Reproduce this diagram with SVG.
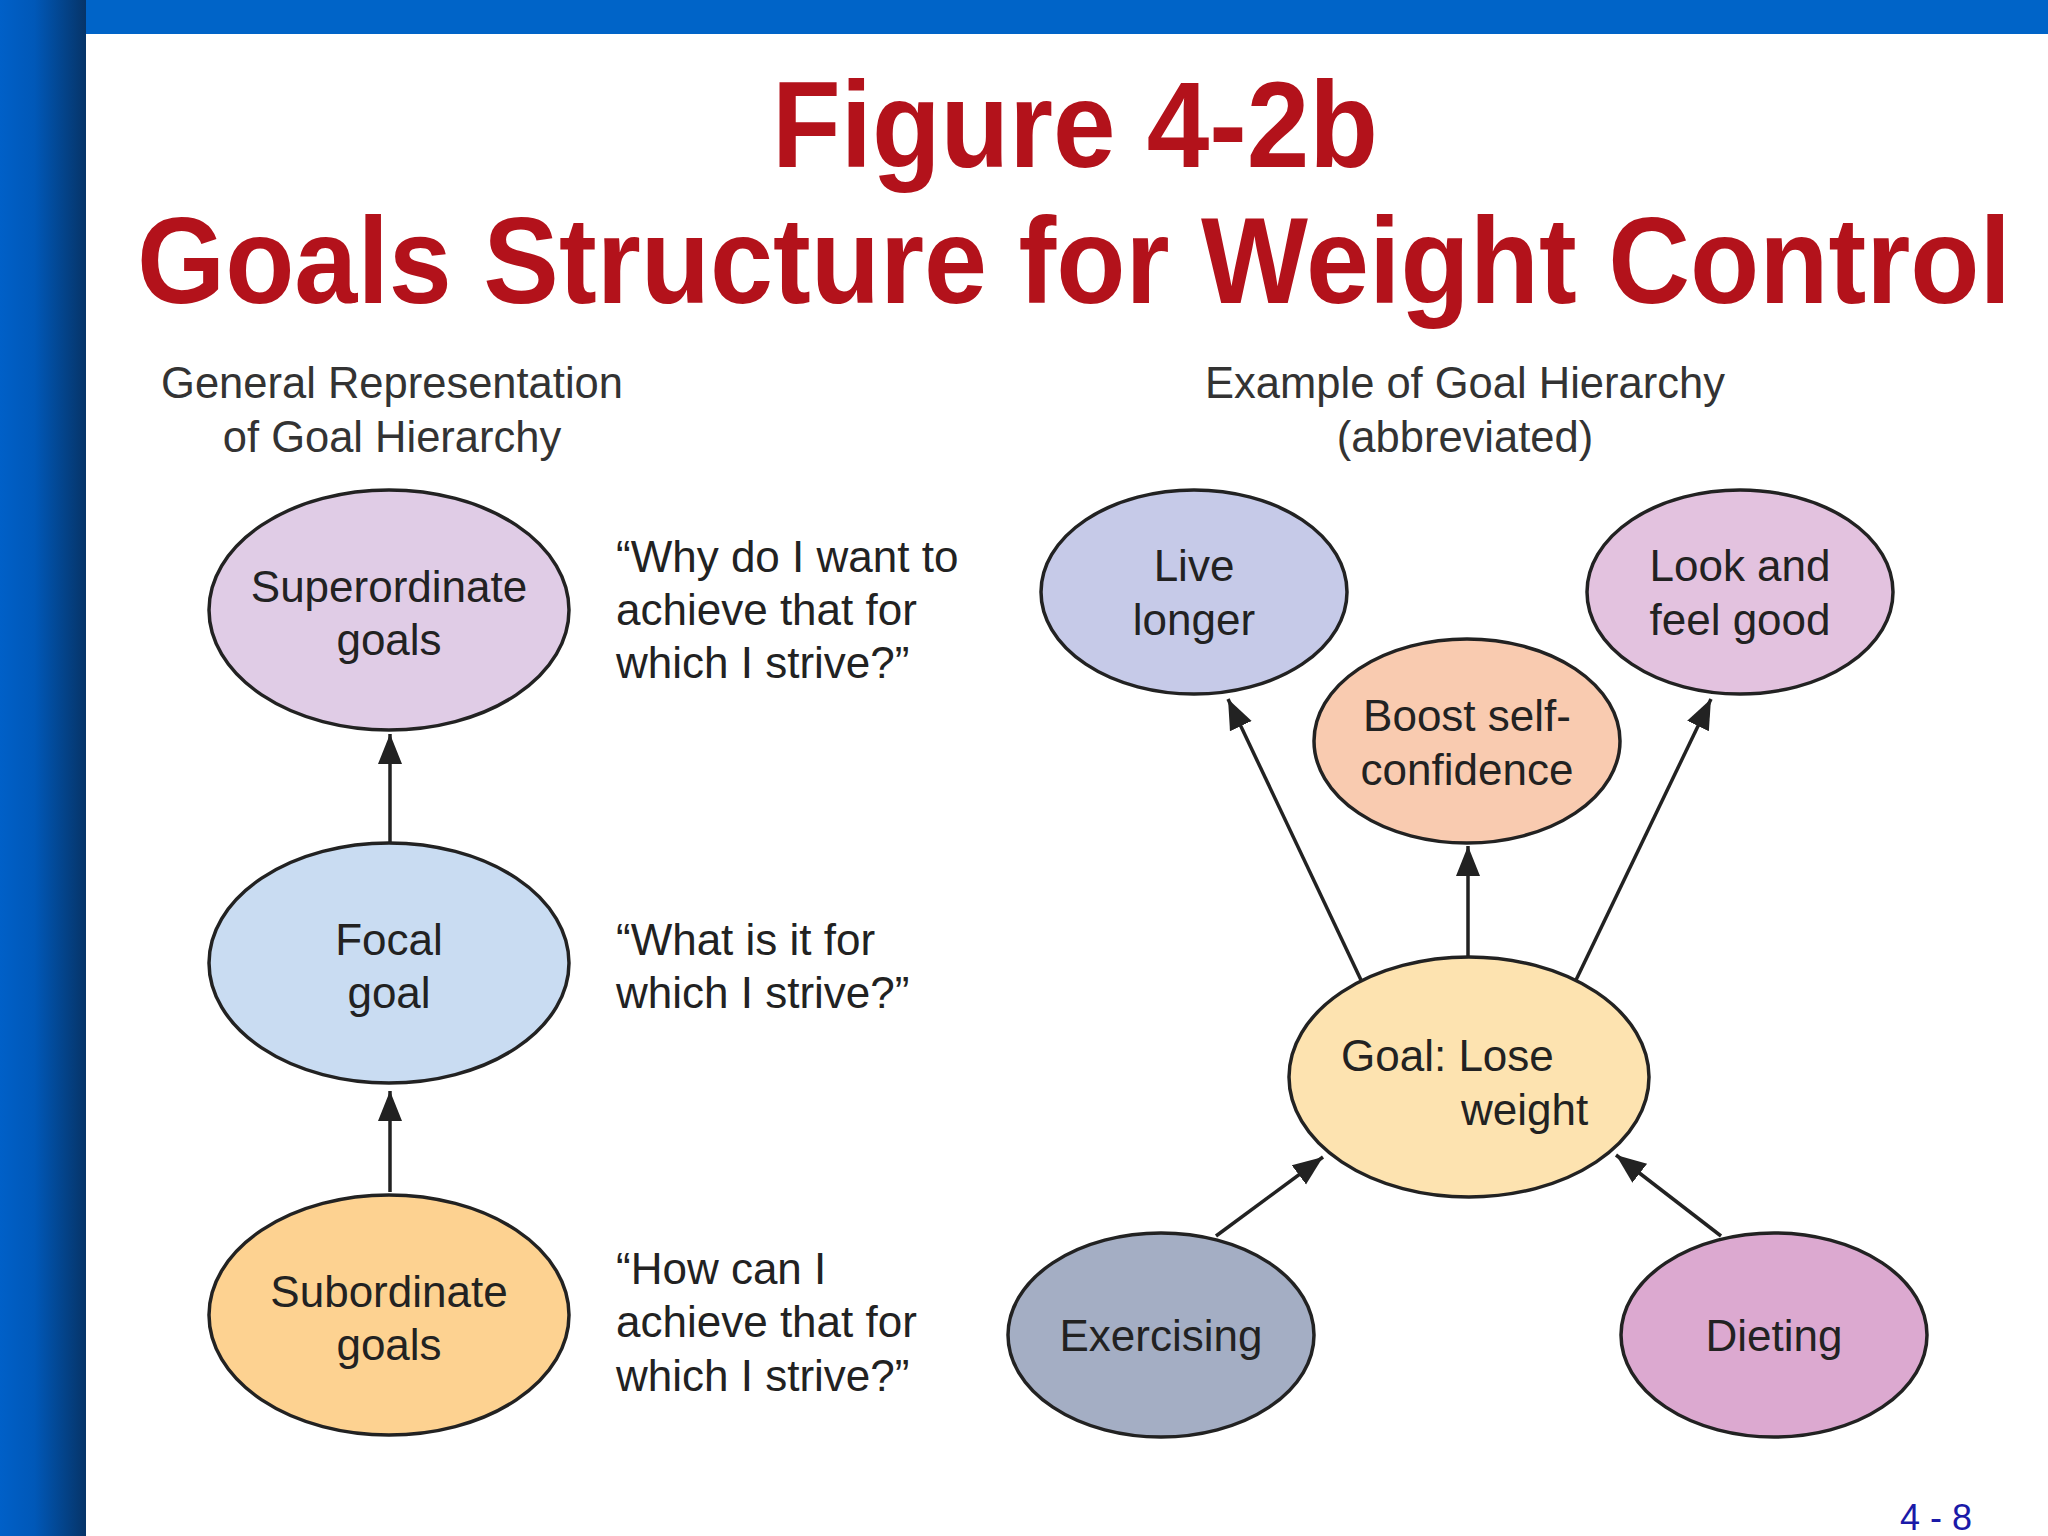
<svg xmlns="http://www.w3.org/2000/svg" width="2048" height="1536" viewBox="0 0 2048 1536">
<defs>
<linearGradient id="lb" x1="0" x2="1" y1="0" y2="0"><stop offset="0" stop-color="#0060c8"/><stop offset="0.4" stop-color="#0058b8"/><stop offset="1" stop-color="#063468"/></linearGradient>
<marker id="a" viewBox="0 0 10 10" refX="10" refY="5" markerWidth="30" markerHeight="30" markerUnits="userSpaceOnUse" orient="auto"><path d="M0,1 L10,5 L0,9 z" fill="#222"/></marker>
</defs>
<style>
.e{stroke:#222;stroke-width:3.5}
.t{font-family:"Liberation Sans",Arial,sans-serif;font-size:44px;fill:#222;text-anchor:middle}
.q{font-family:"Liberation Sans",Arial,sans-serif;font-size:44px;fill:#222}
.h{font-family:"Liberation Sans",Arial,sans-serif;font-size:43.5px;fill:#333;text-anchor:middle}
.ti{font-family:"Liberation Sans",Arial,sans-serif;font-weight:bold;fill:#b3121b;text-anchor:middle}
.c{stroke:#222;stroke-width:3.5;fill:none;marker-end:url(#a)}
</style>
<rect width="2048" height="1536" fill="#fff"/>
<rect x="0" y="0" width="86" height="1536" fill="url(#lb)"/>
<rect x="86" y="0" width="1962" height="34" fill="#0064c8"/>
<text class="ti" x="1075" y="167" font-size="122" textLength="606" lengthAdjust="spacingAndGlyphs">Figure 4-2b</text>
<text class="ti" x="1074" y="303" font-size="122" textLength="1874" lengthAdjust="spacingAndGlyphs">Goals Structure for Weight Control</text>
<text class="h" x="392" y="398">General Representation</text>
<text class="h" x="392" y="452">of Goal Hierarchy</text>
<text class="h" x="1465" y="398">Example of Goal Hierarchy</text>
<text class="h" x="1465" y="452">(abbreviated)</text>
<g id="connectors">
<line class="c" x1="390" y1="842" x2="390" y2="734"/>
<line class="c" x1="390" y1="1192" x2="390" y2="1091"/>
<line class="c" x1="1361" y1="980" x2="1228" y2="699"/>
<line class="c" x1="1468" y1="957" x2="1468" y2="846"/>
<line class="c" x1="1576" y1="980" x2="1711" y2="699"/>
<line class="c" x1="1216" y1="1236" x2="1323" y2="1157"/>
<line class="c" x1="1721" y1="1236" x2="1616" y2="1155"/>
</g>
<g id="superordinate"><ellipse class="e" cx="389" cy="610" rx="180" ry="120" fill="#e0cce6"/><text class="t" x="389" y="602">Superordinate</text><text class="t" x="389" y="655">goals</text></g>
<g id="focal"><ellipse class="e" cx="389" cy="963" rx="180" ry="120" fill="#c9dcf2"/><text class="t" x="389" y="955">Focal</text><text class="t" x="389" y="1008">goal</text></g>
<g id="subordinate"><ellipse class="e" cx="389" cy="1315" rx="180" ry="120" fill="#fdd291"/><text class="t" x="389" y="1307">Subordinate</text><text class="t" x="389" y="1360">goals</text></g>
<g id="q1"><text class="q" x="616" y="572">“Why do I want to</text><text class="q" x="616" y="625">achieve that for</text><text class="q" x="616" y="678">which I strive?”</text></g>
<g id="q2"><text class="q" x="616" y="955">“What is it for</text><text class="q" x="616" y="1008">which I strive?”</text></g>
<g id="q3"><text class="q" x="616" y="1284">“How can I</text><text class="q" x="616" y="1337">achieve that for</text><text class="q" x="616" y="1391">which I strive?”</text></g>
<g id="live"><ellipse class="e" cx="1194" cy="592" rx="153" ry="102" fill="#c6cae8"/><text class="t" x="1194" y="581">Live</text><text class="t" x="1194" y="635">longer</text></g>
<g id="look"><ellipse class="e" cx="1740" cy="592" rx="153" ry="102" fill="#e3c2df"/><text class="t" x="1740" y="581">Look and</text><text class="t" x="1740" y="635">feel good</text></g>
<g id="boost"><ellipse class="e" cx="1467" cy="741" rx="153" ry="102" fill="#f9cbb0"/><text class="t" x="1467" y="731">Boost self-</text><text class="t" x="1467" y="785">confidence</text></g>
<g id="goal"><ellipse class="e" cx="1469" cy="1077" rx="180" ry="120" fill="#fde3b0"/><text class="q" x="1341" y="1071">Goal: Lose</text><text class="q" x="1461" y="1125">weight</text></g>
<g id="exercising"><ellipse class="e" cx="1161" cy="1335" rx="153" ry="102" fill="#a4aec4"/><text class="t" x="1161" y="1351">Exercising</text></g>
<g id="dieting"><ellipse class="e" cx="1774" cy="1335" rx="153" ry="102" fill="#dca9d0"/><text class="t" x="1774" y="1351">Dieting</text></g>
<text x="1936" y="1530" font-family="Liberation Sans,Arial,sans-serif" font-size="36" fill="#1a1aa8" text-anchor="middle">4 - 8</text>
</svg>
